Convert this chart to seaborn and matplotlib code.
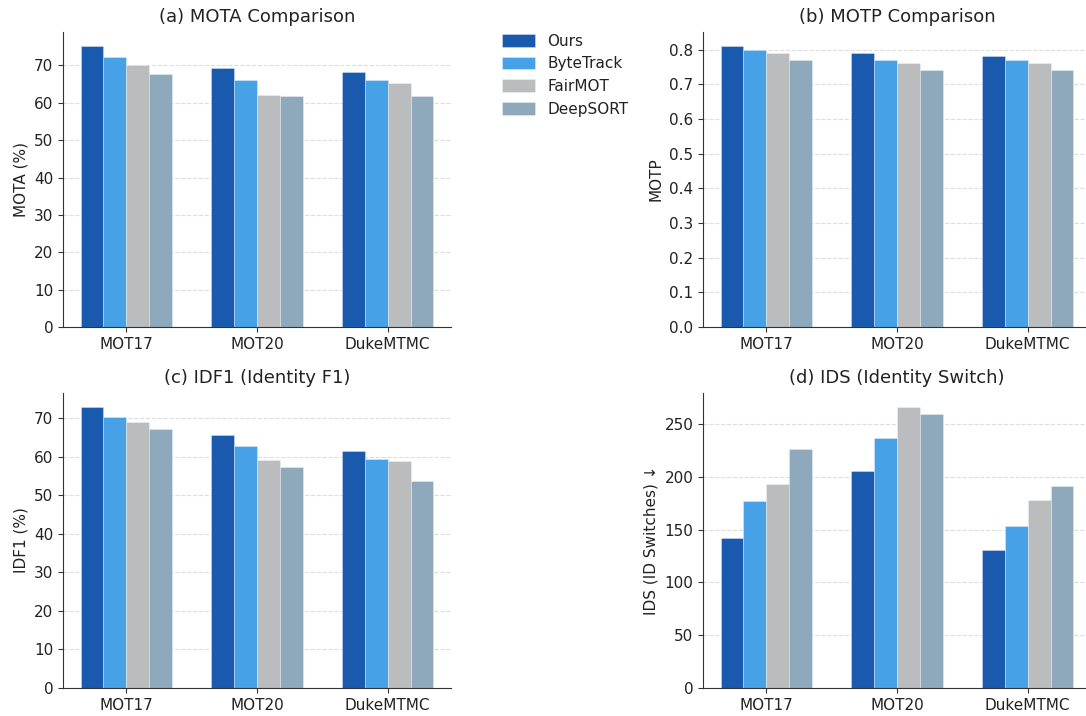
import pandas as pd
import matplotlib
matplotlib.use("Agg")
import matplotlib.pyplot as plt
import seaborn as sns

sns.set_style("ticks")
plt.rcParams['font.family'] = ['DejaVu Sans']
plt.rcParams['text.color'] = '#222222'
plt.rcParams['axes.labelcolor'] = '#222222'
plt.rcParams['xtick.color'] = '#333333'
plt.rcParams['ytick.color'] = '#333333'
plt.rcParams['xtick.labelcolor'] = '#222222'
plt.rcParams['ytick.labelcolor'] = '#222222'

# datos
datasets = ['MOT17', 'MOT20', 'DukeMTMC']
methods = ['Ours', 'ByteTrack', 'FairMOT', 'DeepSORT']
colors = ['#1a5aae', '#46a1e6', '#bbbcbe', '#8fa9bc']

mota = {
    'Ours': [75.2, 69.3, 68.3],
    'ByteTrack': [72.2, 66.0, 66.1],
    'FairMOT': [70.1, 62.2, 65.3],
    'DeepSORT': [67.8, 61.7, 61.7],
}
motp = {
    'Ours': [0.81, 0.79, 0.78],
    'ByteTrack': [0.80, 0.77, 0.77],
    'FairMOT': [0.79, 0.76, 0.76],
    'DeepSORT': [0.77, 0.74, 0.74],
}
idf1 = {
    'Ours': [72.9, 65.7, 61.4],
    'ByteTrack': [70.3, 62.8, 59.5],
    'FairMOT': [69.0, 59.1, 59.0],
    'DeepSORT': [67.2, 57.3, 53.7],
}
ids = {
    'Ours': [142, 205, 131],
    'ByteTrack': [177, 237, 153],
    'FairMOT': [193, 266, 178],
    'DeepSORT': [226, 259, 191],
}

titles = ['(a) MOTA Comparison', '(b) MOTP Comparison',
          '(c) IDF1 (Identity F1)', '(d) IDS (Identity Switch)']
ylabels = ['MOTA (%)', 'MOTP', 'IDF1 (%)', 'IDS (ID Switches) \u2193']


def to_long(metric):
    rows = []
    for m in methods:
        for d, v in zip(datasets, metric[m]):
            rows.append({'Dataset': d, 'Method': m, 'Value': v})
    return pd.DataFrame(rows)


fig = plt.figure(figsize=(10.86, 7.16), dpi=100)
W, H = 1086, 716
# posiciones de los ejes en pixeles: (izq, abajo, ancho, alto)
boxes = [(63, 716 - 327, 388, 295), (703, 716 - 327, 388, 295),
         (63, 716 - 688, 388, 295), (703, 716 - 688, 388, 295)]

for i, metric in enumerate([mota, motp, idf1, ids]):
    l, b, w, h = boxes[i]
    ax = fig.add_axes([l / W, b / H, w / W, h / H])
    df = to_long(metric)
    sns.barplot(data=df, x='Dataset', y='Value', hue='Method', order=datasets,
                hue_order=methods, palette=colors, saturation=1, width=0.7,
                errorbar=None, edgecolor=(1, 1, 1, 0.45), linewidth=0.5, ax=ax,
                legend=(i == 0))
    ax.set_xlim(-0.485, 2.485)
    ax.set_title(titles[i], fontsize=13, pad=7)
    ax.set_xlabel('')
    ax.set_ylabel(ylabels[i], fontsize=11)
    ax.tick_params(labelsize=11)
    ax.yaxis.grid(True, linestyle='--', color='#dddddd', linewidth=0.8)
    ax.set_axisbelow(True)
    sns.despine(ax=ax)
    for s in ['left', 'bottom']:
        ax.spines[s].set_color('#333333')
    if i == 0:
        handles, labels = ax.get_legend_handles_labels()
        ax.get_legend().remove()

fig.legend(handles, labels, loc='upper left', bbox_to_anchor=(488 / W, 1 - 20 / H),
           frameon=False, fontsize=11, handlelength=2.2, handleheight=0.9,
           labelspacing=0.5)

plt.savefig('out.png', dpi=100)
